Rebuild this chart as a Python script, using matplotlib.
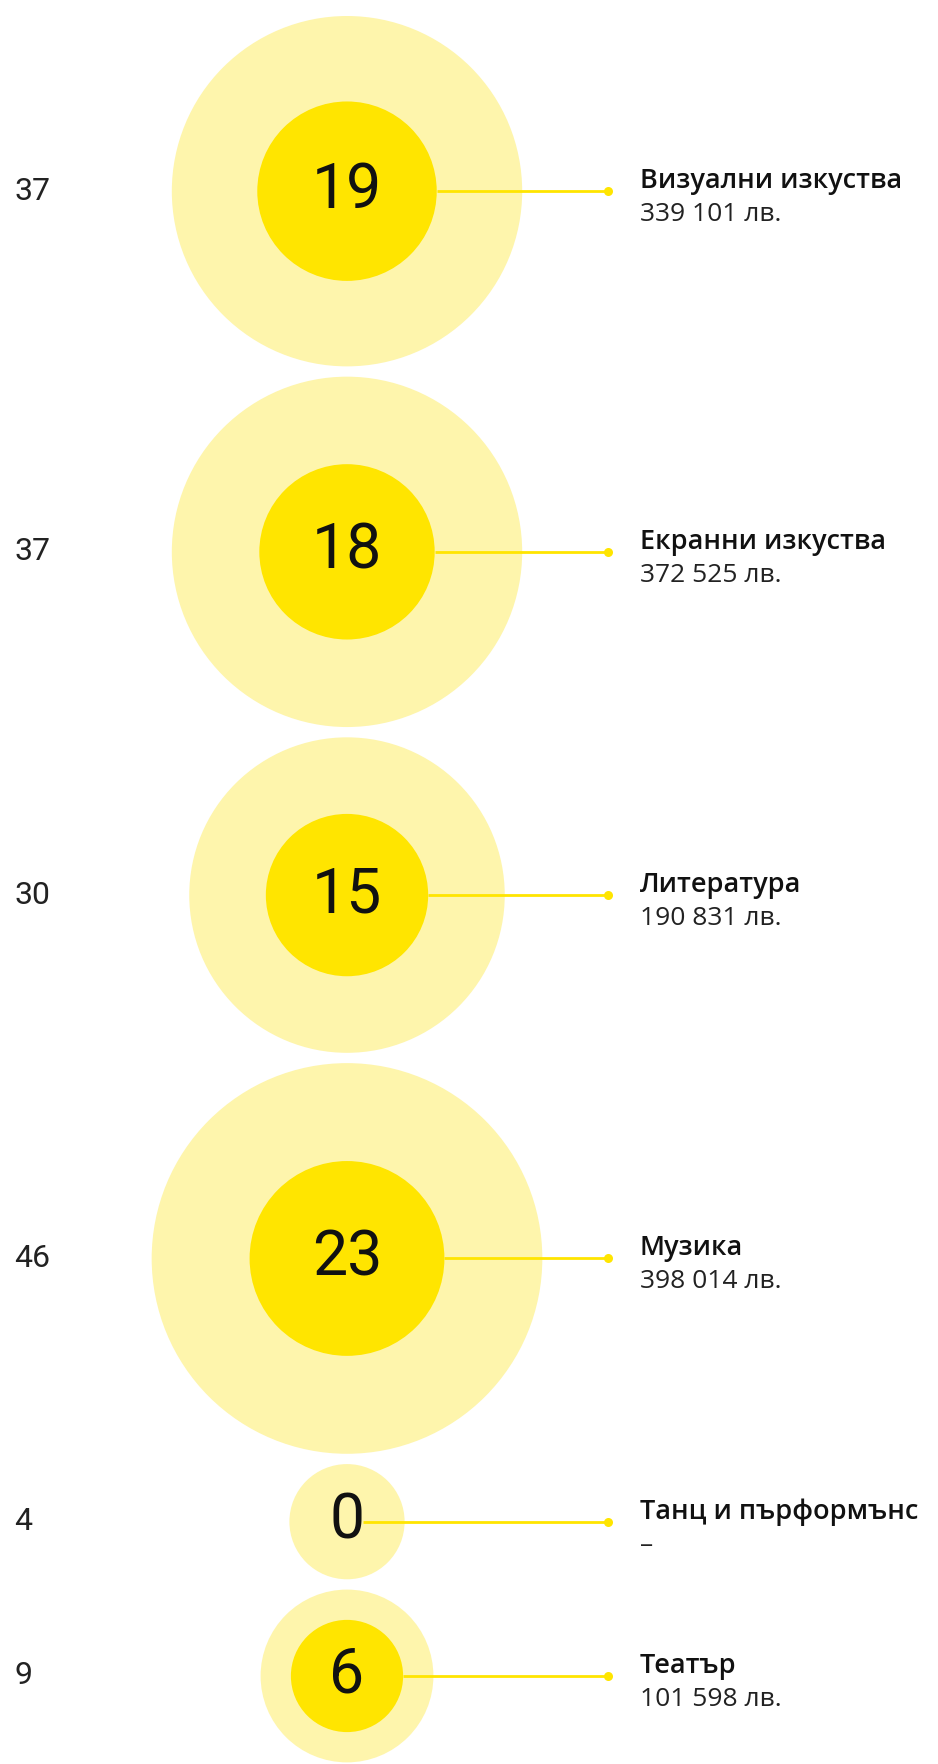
import matplotlib.pyplot as plt
from matplotlib.patches import Circle
import numpy as np


categories = ["Визуални изкуства", "Екранни изкуства", "Литература",
              "Музика", "Танц и пърформънс", "Театър"]
applied = [37, 37, 30, 46, 4, 9]
funded = [19, 18, 15, 23, 0, 6]
amounts = ["339 101 лв.", "372 525 лв.", "190 831 лв.",
           "398 014 лв.", "–", "101 598 лв."]

pale = "#FEF5AC"
gold = "#FFE500"
ink = "#111111"

W, H = 938, 1764
cx = 347
k_out = 28.8
top = 16
gap = 10.3


def inner_radius(v):
    # sqrt scale with a small offset, zero means no inner circle
    if v <= 0:
        return 0
    return 13 + 17.6 * np.sqrt(v)


fig = plt.figure(figsize=(W / 100, H / 100), dpi=100)
ax = fig.add_axes([0, 0, 1, 1])
ax.set_xlim(0, W)
ax.set_ylim(H, 0)
ax.set_aspect("equal")
ax.axis("off")

y = top
for name, a, f, amt in zip(categories, applied, funded, amounts):
    ro = k_out * np.sqrt(a)
    ri = inner_radius(f)
    cy = y + ro
    y = cy + ro + gap

    ax.add_patch(Circle((cx, cy), ro, color=pale, lw=0, zorder=1))
    if ri > 0:
        ax.add_patch(Circle((cx, cy), ri, color=gold, lw=0, zorder=2))

    x0 = cx + max(ri, 16)
    ax.plot([x0, 608], [cy, cy], color=gold, lw=2.0, zorder=3,
            solid_capstyle="butt")
    ax.plot([608], [cy], "o", color=gold, ms=6.5, mew=0, zorder=3)

    ax.text(14, cy, str(a), fontsize=23, family="Roboto", fontweight="normal",
            color="#222222", va="center", ha="left")
    ax.text(cx, cy, str(f), fontsize=45, family="Roboto", color=ink,
            va="center", ha="center", zorder=4)
    ax.text(640, cy - 3, name, fontsize=19.5, family="Open Sans",
            fontweight="semibold", color=ink, va="baseline", ha="left")
    ax.text(640, cy + 30, amt, fontsize=19, family="Open Sans",
            fontweight="normal", color="#222222", va="baseline", ha="left")

fig.savefig("out.png", dpi=100, facecolor="white")
